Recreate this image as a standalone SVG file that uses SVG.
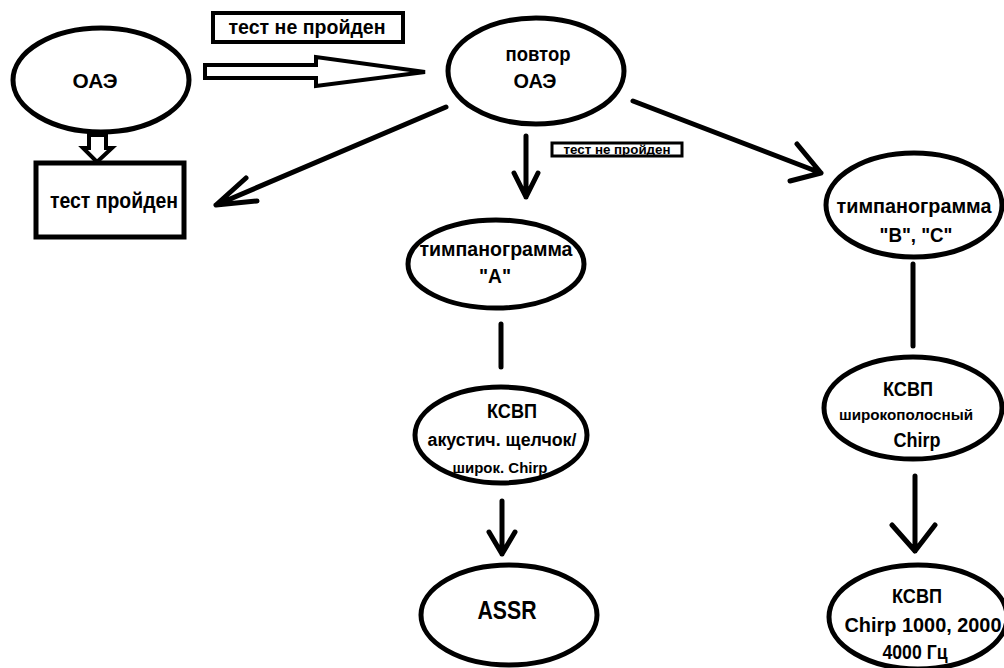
<svg xmlns="http://www.w3.org/2000/svg" width="1004" height="668" viewBox="0 0 1004 668">
<style>
.n{fill:#fff;stroke:#000;stroke-width:5}
.t{font-family:"Liberation Sans","Noto Sans",sans-serif;font-weight:bold;fill:#000;text-anchor:middle}
.c{fill:none;stroke:#000;stroke-width:5;stroke-linecap:round;stroke-linejoin:round}
.h{fill:#fff;stroke:#000;stroke-width:4;stroke-linejoin:miter}
</style>
<rect width="1004" height="668" fill="#fff"/>
<g id="connectors">
<polygon class="h" points="205,65 316,65 316,57 425,72 316,86 316,78 205,78"/>
<polygon class="h" points="89,135 106,135 106,148 112,148 97,162 83,148 89,148"/>
<path class="c" d="M446,107 L216,205 M246,178 L216,205 L257,201"/>
<path class="c" d="M526,136 L526,197 M514,173 L526,197 L538,173"/>
<path class="c" d="M633,101 L821,173 M797,144 L821,173 L790,181"/>
<path class="c" d="M501,324 L501,367"/>
<path class="c" d="M913,264 L913,346"/>
<path class="c" d="M502,501 L502,554 M489,532 L502,554 L515,532"/>
<path class="c" d="M915,476 L915,551 M892,525 L915,551 L935,525"/>
</g>
<g id="label-top">
<rect x="213" y="13" width="190" height="29" fill="#fff" stroke="#000" stroke-width="4"/>
<text class="t" x="307" y="34" font-size="21" textLength="157" lengthAdjust="spacingAndGlyphs">тест не пройден</text>
</g>
<g id="label-small">
<rect x="552" y="143" width="130" height="13" fill="#fff" stroke="#000" stroke-width="3"/>
<text class="t" x="617" y="154" font-size="12" textLength="107" lengthAdjust="spacingAndGlyphs">тест не пройден</text>
</g>
<g id="oae">
<ellipse class="n" cx="101" cy="80" rx="88" ry="52"/>
<text class="t" x="95" y="88" font-size="21" textLength="45" lengthAdjust="spacingAndGlyphs">ОАЭ</text>
</g>
<g id="test-passed">
<rect class="n" x="36" y="163" width="148" height="74"/>
<text class="t" x="114" y="208" font-size="22" textLength="128" lengthAdjust="spacingAndGlyphs">тест пройден</text>
</g>
<g id="repeat-oae">
<ellipse class="n" cx="536" cy="71" rx="88" ry="53"/>
<text class="t" x="538" y="61" font-size="20" textLength="65" lengthAdjust="spacingAndGlyphs">повтор</text>
<text class="t" x="535" y="88" font-size="21" textLength="43" lengthAdjust="spacingAndGlyphs">ОАЭ</text>
</g>
<g id="tymp-a">
<ellipse class="n" cx="496" cy="264" rx="88" ry="44"/>
<text class="t" x="496" y="256" font-size="20" textLength="153" lengthAdjust="spacingAndGlyphs">тимпанограмма</text>
<text class="t" x="495" y="283" font-size="21" textLength="32" lengthAdjust="spacingAndGlyphs">"А"</text>
</g>
<g id="tymp-bc">
<ellipse class="n" cx="914" cy="205" rx="88" ry="52"/>
<text class="t" x="914" y="213" font-size="20" textLength="155" lengthAdjust="spacingAndGlyphs">тимпанограмма</text>
<text class="t" x="916" y="242" font-size="21" textLength="73" lengthAdjust="spacingAndGlyphs">"В", "С"</text>
</g>
<g id="abr-left">
<ellipse class="n" cx="501" cy="435" rx="86" ry="48"/>
<text class="t" x="512" y="418" font-size="20" textLength="50" lengthAdjust="spacingAndGlyphs">КСВП</text>
<text class="t" x="502" y="446" font-size="18" textLength="149" lengthAdjust="spacingAndGlyphs">акустич. щелчок/</text>
<text class="t" x="500" y="473" font-size="14" textLength="95" lengthAdjust="spacingAndGlyphs">широк. Chirp</text>
</g>
<g id="assr">
<ellipse class="n" cx="509" cy="615" rx="88" ry="50"/>
<text class="t" x="507" y="619" font-size="26" textLength="59" lengthAdjust="spacingAndGlyphs">ASSR</text>
</g>
<g id="abr-right">
<ellipse class="n" cx="913" cy="408" rx="89" ry="51"/>
<text class="t" x="908" y="396" font-size="20" textLength="50" lengthAdjust="spacingAndGlyphs">КСВП</text>
<text class="t" x="906" y="420" font-size="14" textLength="134" lengthAdjust="spacingAndGlyphs">широкополосный</text>
<text class="t" x="917" y="447" font-size="20" textLength="47" lengthAdjust="spacingAndGlyphs">Chirp</text>
</g>
<g id="abr-chirp">
<ellipse class="n" cx="918" cy="617" rx="89" ry="52"/>
<text class="t" x="917" y="603" font-size="20" textLength="50" lengthAdjust="spacingAndGlyphs">КСВП</text>
<text class="t" x="923" y="632" font-size="20" textLength="157" lengthAdjust="spacingAndGlyphs">Chirp 1000, 2000</text>
<text class="t" x="915" y="659" font-size="21" textLength="65" lengthAdjust="spacingAndGlyphs">4000 Гц</text>
</g>
</svg>
